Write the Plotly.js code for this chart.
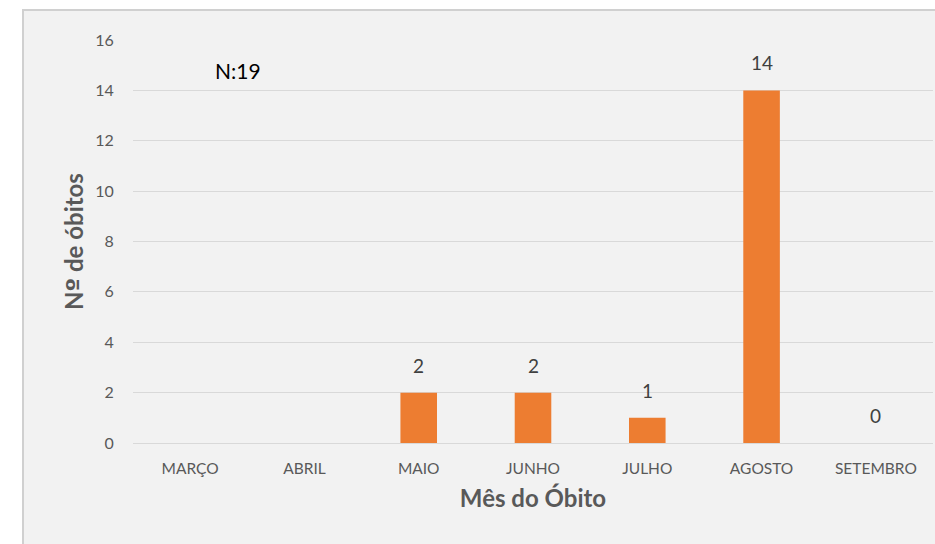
<!DOCTYPE html>
<html>
<head>
<meta charset="utf-8">
<script src="https://cdn.plot.ly/plotly-3.0.1.min.js"></script>
<style>
  html, body { margin: 0; padding: 0; background: #ffffff; width: 935px; height: 544px; overflow: hidden; }
  #chart { position: absolute; left: 22px; top: 9px; width: 913px; height: 535px; border-top: 2px solid #d0d0d0; border-left: 2px solid #d0d0d0; box-sizing: border-box; background: #f2f2f2; }
</style>
</head>
<body>
<div id="chart"></div>
<script>
const months = ["MARÇO", "ABRIL", "MAIO", "JUNHO", "JULHO", "AGOSTO", "SETEMBRO"];
const deaths = [null, null, 2, 2, 1, 14, 0];
const yTicks = [0, 2, 4, 6, 8, 10, 12, 14, 16];
const totalLabel = "N:19";

const fontFam = "Lato, 'Open Sans', sans-serif";

const labelAnnotations = months.map((m, i) => ({
  x: m, y: deaths[i], text: String(deaths[i]), showarrow: false,
  yshift: 27.5, font: {family: fontFam, size: 19, color: "#404040"}
})).filter((a, i) => deaths[i] !== null);

const trace = {
  type: "bar", x: months, y: deaths,
  marker: {color: "#ed7d31"},
  hoverinfo: "x+y"
};

const layout = {
  width: 911, height: 533,
  margin: {l: 109, r: 2, t: 29, b: 101},
  paper_bgcolor: "#f2f2f2", plot_bgcolor: "#f2f2f2",
  bargap: 0.68,
  showlegend: false,
  font: {family: fontFam, color: "#595959"},
  xaxis: {
    type: "category", tickfont: {size: 15.5, color: "#595959"},
    ticks: "outside", ticklen: 11, tickcolor: "rgba(0,0,0,0)",
    showgrid: false, showline: false, zeroline: false,
    title: {text: "<b>Mês do Óbito</b>", font: {size: 24, color: "#595959"}, standoff: 14}
  },
  yaxis: {
    range: [0, 16], tickvals: yTicks, tickfont: {size: 16, color: "#595959"},
    ticks: "outside", ticklen: 15, tickcolor: "rgba(0,0,0,0)",
    gridcolor: "#d9d9d9", gridwidth: 1, zeroline: true, zerolinecolor: "#d9d9d9", zerolinewidth: 1,
    showline: false,
    title: {text: "<b>N<span style=\"font-family:'DejaVu Sans'\">º</span> de óbitos</b>", font: {size: 24, color: "#595959"}, standoff: 4}
  },
  annotations: labelAnnotations.concat([{
    x: 0.42, y: 14.8, xref: "x", yref: "y", text: totalLabel, showarrow: false,
    font: {family: fontFam, size: 21, color: "#000000"}
  }])
};

Plotly.newPlot("chart", [trace], layout, {displayModeBar: false, staticPlot: true});
</script>
</body>
</html>
